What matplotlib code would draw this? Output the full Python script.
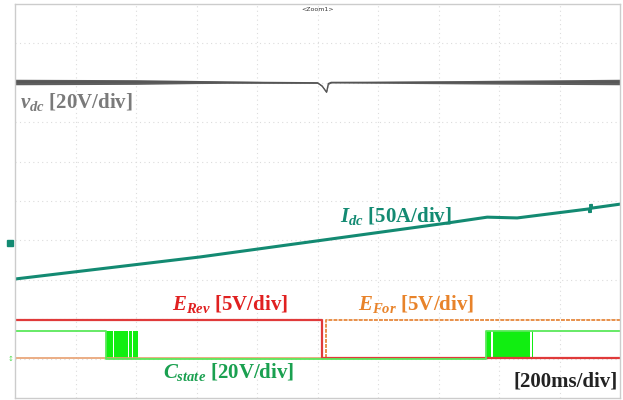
import matplotlib
matplotlib.use("Agg")
import matplotlib.pyplot as plt
import numpy as np

# scope screen: 10 x 10 divisions, time in ms (200 ms/div)
ms_per_div = 200

# vdc trace [div], with ripple envelope half-width [div]
vdc_t = [0, 600, 1000, 1015, 1030, 1036, 1045, 2000]
vdc_y = [8.02, 8.02, 8.00, 7.92, 7.76, 7.98, 8.01, 8.02]
vdc_rip_t = [0, 400, 700, 1000, 1040, 1300, 1600, 2000]
vdc_rip = [0.07, 0.06, 0.03, 0.015, 0.015, 0.03, 0.05, 0.07]

# Idc trace [div]
idc_t = [0, 612, 1428, 1561, 1660, 1898, 1901, 1904, 1907, 2000]
idc_y = [3.02, 3.58, 4.44, 4.59, 4.57, 4.80, 4.70, 4.92, 4.82, 4.92]

# logic signals [div]
erev_t = [0, 1015, 1015, 2000]
erev_y = [1.98, 1.98, 1.02, 1.02]
efor_lo_t = [0, 1028]
efor_lo_y = [1.02, 1.02]
efor_hi_t = [1028, 1028, 2000]
efor_hi_y = [1.02, 1.98, 1.98]

cs_hi, cs_lo = 1.70, 0.99
cs_t = [0, 301, 301, 407, 407, 1557, 1557, 1712, 1712, 2000]
cs_y = [cs_hi, cs_hi, cs_lo, cs_lo, cs_lo, cs_lo, cs_hi, cs_hi, cs_hi, cs_hi]
# switching bursts (filled), as on/off chunks
burst_segs = [(301, 323), (326, 375), (378, 386), (389, 407),
              (1557, 1575), (1579, 1704), (1708, 1712)]

fig = plt.figure(figsize=(6.23, 4.0), dpi=100)
ax = fig.add_axes([15 / 623, 2 / 400, 605 / 623, 394 / 400])
ax.set_xlim(0, 10 * ms_per_div)
ax.set_ylim(0, 10)

for k in range(1, 10):
    ax.axvline(k * ms_per_div, color="#dcdcdc", lw=0.8, ls=(0, (1, 3)), zorder=0)
    ax.axhline(k, color="#dcdcdc", lw=0.8, ls=(0, (1, 3)), zorder=0)
ax.set_xticks([])
ax.set_yticks([])
for s in ax.spines.values():
    s.set_color("#cccccc")
    s.set_linewidth(1.0)

# vdc
tt = np.linspace(0, 2000, 600)
rip = np.interp(tt, vdc_rip_t, vdc_rip)
vv = np.interp(tt, vdc_t, vdc_y)
ax.fill_between(tt, vv - rip, vv + rip, color="#5e5e5e", lw=0)
ax.plot(vdc_t, vdc_y, color="#555555", lw=1.0)

# Idc
ax.plot(idc_t, idc_y, color="#138a72", lw=2.2, solid_joinstyle="miter")

# E_For / E_Rev
ax.plot(efor_lo_t, efor_lo_y, color="#e8a070", lw=1.2)
ax.plot(efor_hi_t, efor_hi_y, color="#e8904a", lw=1.4, ls=(0, (2, 0.6)))
ax.plot(erev_t, erev_y, color="#e03a3a", lw=1.6)

# C_state
ax.plot(cs_t, cs_y, color="#5ae85a", lw=1.3)
for a, b in burst_segs:
    ax.fill_between([a, b], cs_lo, cs_hi, color="#11ee11", lw=0)

# offset markers
ax.plot([-16], [3.93], marker="s", ms=5, color="#138a72", clip_on=False)
ax.text(-16, 1.0, "\u2195", color="#55dd55", fontsize=5, ha="center", va="center",
        clip_on=False)

plt.rcParams["mathtext.fontset"] = "custom"
plt.rcParams["mathtext.it"] = "Liberation Serif:bold:italic"
plt.rcParams["mathtext.rm"] = "Liberation Serif:bold"

lab = dict(family="Liberation Serif", weight="bold", fontsize=15, va="center")
ax.text(16, 7.51, r"$v_{dc}$ [20V/div]", color="#7a7a7a", ha="left", **lab)
ax.text(1074, 4.62, r"$I_{dc}$ [50A/div]", color="#138a72", ha="left", **lab)
ax.text(520, 2.39, r"$E_{Rev}$ [5V/div]", color="#e02020", ha="left", **lab)
ax.text(1134, 2.39, r"$E_{For}$ [5V/div]", color="#e8832a", ha="left", **lab)
ax.text(489, 0.66, r"$C_{state}$ [20V/div]", color="#1aa050", ha="left", **lab)
ax.text(1993, 0.41, "[200ms/div]", color="#222222", ha="right", **lab)
ax.text(1000, 9.87, "<Zoom1>", color="#333333", fontsize=4.5, ha="center", va="center")

fig.savefig("out.png", dpi=100)
